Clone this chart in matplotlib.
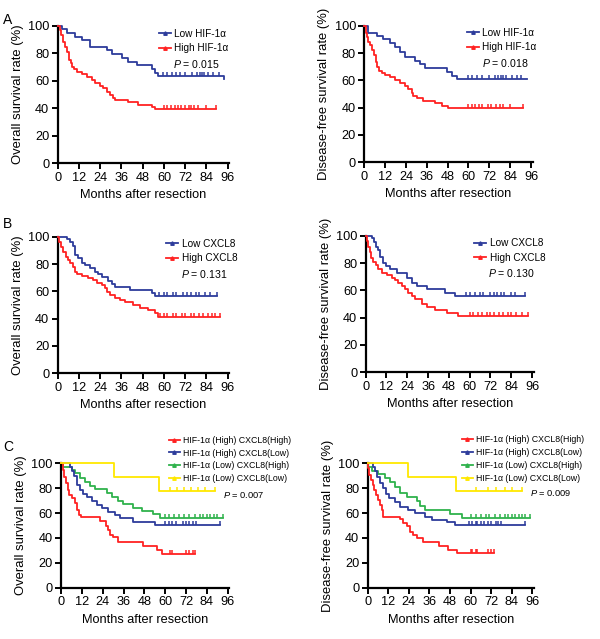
import matplotlib
matplotlib.use('Agg')
import matplotlib.pyplot as plt
from matplotlib.lines import Line2D

plt.rcParams['font.family'] = ['Liberation Sans', 'DejaVu Sans']
plt.rcParams['mathtext.fontset'] = 'custom'
plt.rcParams['mathtext.it'] = 'Liberation Sans:italic'
plt.rcParams['mathtext.rm'] = 'Liberation Sans'

BLUE = "#2d3c9b"
RED = "#ff2222"
GREEN = "#2fb24c"
YELLOW = "#ffe800"

W, H = 600, 639

# ---- panel A : HIF-1a ----
a_os_low_t = [0, 2.3, 5.1, 9.8, 13.6, 18.3, 23.9, 27.7, 30.5, 36.1, 39.9, 44.6, 53.1, 55.0, 56.8, 94]
a_os_low_s = [100, 97.3, 94.7, 92, 89.6, 84.7, 84.7, 82.3, 79.4, 76.3, 73.8, 71.4, 68.5, 65.9, 63.4, 61.3]
a_os_low_c = [59.6, 62, 64.4, 67, 69.1, 72, 75.7, 78.5, 80.4, 81.3, 82.5, 85.1, 87.9, 91]
a_os_high_t = [0, 1.3, 1.9, 3.2, 4.1, 5.1, 6.6, 7.3, 7.9, 9.2, 10.7, 13.6, 16.8, 19.2, 21.1, 23.9, 25.8, 27.7,
               29.6, 31.4, 32.4, 39.9, 45.6, 53.1, 55.0, 56.8, 89.4]
a_os_high_s = [100, 96.9, 93, 88, 84.7, 81, 75, 72.6, 70, 68.5, 66.6, 64.9, 63, 60.5, 58, 56, 54.5, 52,
               49.6, 47.7, 46, 44.3, 42.4, 40.7, 39.5, 39.5, 39.5]
a_os_high_c = [60, 62, 64, 66, 68, 69.5, 72, 74, 75.5, 77, 79, 84, 89.4]

a_dfs_low_t = [0, 1.9, 7.1, 10.9, 14.8, 17.7, 20.5, 23.4, 29.2, 32.1, 35.0, 47.4, 50.3, 53.2, 93.5]
a_dfs_low_s = [100, 94.4, 92.4, 90, 87.6, 84.6, 81, 76.8, 74.4, 71.7, 68.8, 66.3, 63.2, 61, 61]
a_dfs_low_c = [60, 62, 65, 68, 72, 75, 77, 78.5, 80, 81.5, 85, 88, 90.5]
a_dfs_high_t = [0, 0.8, 1.3, 2.3, 3.3, 4.2, 5.6, 6.7, 7.5, 8.6, 10.0, 11.9, 14.8, 17.7, 20.5, 23.4, 25.3,
                27.3, 28.2, 30.1, 34.0, 40.7, 44.5, 48.4, 53.2, 91.2]
a_dfs_high_s = [100, 94.9, 92, 88, 85.9, 82.2, 78.5, 73.7, 70, 67, 65.6, 63.9, 62.2, 60.2, 58.3, 55.9, 53.4,
                50.5, 48.5, 46.8, 45.1, 43.2, 41.2, 39.5, 39.5, 39.5]
a_dfs_high_c = [60, 62, 64, 66, 68, 71, 73, 76, 78, 80, 84, 91.2]

# ---- panel B : CXCL8 ----
b_os_low_t = [0, 5.1, 7.0, 8.5, 9.8, 11.7, 13.6, 15.4, 18.3, 21.1, 23.0, 24.8, 28.6, 30.5, 32.4, 40.8,
              53.1, 55.0, 89.8]
b_os_low_s = [100, 98, 96.3, 93.2, 86.6, 84.1, 81, 79.3, 76.8, 74.4, 72.4, 70.2, 67.8, 65.4, 63.4, 61,
              58.5, 56.6, 56.6]
b_os_low_c = [57, 60, 62, 65, 67, 71, 73, 75, 78, 80, 83, 86, 89.8]
b_os_high_t = [0, 0.9, 1.9, 3.2, 4.5, 5.6, 7.0, 8.5, 9.8, 11.1, 13.6, 17.3, 20.1, 22.4, 24.8, 26.7, 27.7,
               29.6, 32.4, 35.2, 38.0, 42.7, 46.5, 51.2, 55.0, 56.8, 91.7]
b_os_high_s = [100, 96, 92.7, 89, 85.4, 82.9, 80.5, 77.6, 74.4, 72.4, 71.2, 70, 68.3, 66.3, 64.6, 62.2,
               59.8, 57.3, 55.4, 53.7, 52, 50, 48, 46.3, 43.9, 41.5, 41.5]
b_os_high_c = [58, 60, 62, 65, 67, 70, 72, 75, 77, 80, 82, 85, 87, 89, 91.7]

b_dfs_low_t = [0, 3.5, 4.8, 6.0, 7.3, 8.3, 9.8, 11.7, 14.0, 17.9, 23.6, 26.5, 29.4, 35.1, 45.7, 51.5, 91.8]
b_dfs_low_s = [100, 98, 95.6, 92, 89.5, 84.6, 80.2, 77.8, 75.4, 72.9, 68.8, 65.6, 63.2, 60.7, 58.3, 56.1, 56.1]
b_dfs_low_c = [58, 60, 63, 66, 68, 72, 74, 76, 78, 80, 84, 86, 91.8]
b_dfs_high_t = [0, 0.6, 1.2, 2.5, 3.1, 4.4, 6.0, 7.3, 9.2, 12.1, 15.0, 16.9, 18.8, 20.7, 22.7, 24.6, 26.5,
                28.4, 32.3, 35.1, 39.9, 46.7, 53.4, 93.7]
b_dfs_high_s = [100, 96, 92, 88, 84, 80.7, 78.5, 75.4, 72.4, 71.2, 69.3, 67.6, 65.1, 63.2, 60.7, 58.3, 55.9,
                53.4, 50, 48, 45.6, 43.5, 41.2, 41.2]
b_dfs_high_c = [60, 62, 65, 67, 70, 72, 74, 77, 79, 82, 84, 87, 90, 93.7]

# ---- panel C : HIF-1a x CXCL8 ----
c_labels = ["HIF-1α (High) CXCL8(High)", "HIF-1α (High) CXCL8(Low)",
            "HIF-1α (Low) CXCL8(High)", "HIF-1α (Low) CXCL8(Low)"]

c_os_hh_t = [0, 1.0, 1.7, 2.9, 3.8, 4.8, 6.1, 8.1, 9.4, 10.4, 11.3, 22.5, 25.9, 27.3, 28.2, 30.1, 33.0,
             47.4, 55.1, 58.0, 77.2]
c_os_hh_s = [100, 94.6, 89.3, 84, 78.6, 74.6, 71.8, 67.8, 62.5, 58.4, 56.6, 53.5, 49.6, 46.4, 42.4, 40.5,
             37, 33.5, 30.3, 27, 27]
c_os_hh_c = [63, 64, 72, 74, 76, 77.2]
c_os_hl_t = [0, 5.2, 6.1, 7.5, 9.0, 10.9, 12.9, 15.2, 17.7, 20.5, 23.4, 27.3, 31.1, 34.0, 41.7, 54.1, 91.6]
c_os_hl_s = [100, 97.3, 93.8, 89.8, 82.6, 78.6, 75.3, 72.7, 69.7, 66.5, 63.8, 61.1, 58.4, 55.8, 53, 50.4, 50.4]
c_os_hl_c = [60, 62, 64, 66, 70, 72, 74, 76, 78, 91.6]
c_os_lh_t = [0, 1.3, 6.1, 8.1, 10.9, 13.8, 16.7, 19.6, 26.3, 29.2, 33.0, 35.9, 41.7, 46.5, 53.2, 57.0, 93.5]
c_os_lh_s = [100, 97.3, 94.6, 92, 88.5, 85.3, 81.8, 79, 76.4, 73.2, 69.7, 67, 64.3, 61.9, 59, 55.8, 55.8]
c_os_lh_c = [60, 62, 65, 68, 71, 74, 77, 80, 82, 84, 86, 88, 90, 93.5]
c_os_ll_t = [0, 30.7, 56.6, 88.7]
c_os_ll_s = [100, 88.9, 77.8, 77.8]
c_os_ll_c = [63, 67, 71, 75, 79, 83, 88.7]

c_dfs_hh_t = [0, 0.4, 1.0, 1.9, 2.9, 3.9, 4.9, 6.2, 7.2, 8.2, 8.7, 9.1, 18.8, 20.8, 22.7, 24.7, 26.2, 28.6,
              32.5, 41.8, 47.0, 51.9, 73.6]
c_dfs_hh_s = [100, 96, 90.6, 86.6, 82.6, 78.6, 74.5, 70.5, 66.5, 62.5, 60, 57.1, 55, 52.3, 49.6, 45, 42.4,
              39.7, 37, 33.5, 30.3, 27.6, 27.6]
c_dfs_hh_c = [60, 61, 63, 64, 70, 72, 73.6]
c_dfs_hl_t = [0, 2.9, 4.3, 5.6, 7.2, 9.1, 10.7, 12.6, 15.9, 18.8, 23.7, 27.6, 33.4, 37.3, 46.1, 50.9, 91.7]
c_dfs_hl_s = [100, 97.3, 93.8, 89.3, 84, 80, 75.3, 71.8, 69.2, 64.6, 62.5, 59.8, 56.6, 54.4, 53, 50.4, 50.4]
c_dfs_hl_c = [59, 61, 63, 64, 66, 68, 70, 72, 75, 76, 78, 91.7]
c_dfs_lh_t = [0, 0.4, 2.3, 6.2, 10.1, 13.0, 15.9, 18.8, 22.7, 28.6, 30.5, 33.4, 48.0, 54.8, 94.6]
c_dfs_lh_s = [100, 97.3, 93.8, 91.2, 87.9, 85.3, 81.2, 76.4, 72.7, 69.7, 65.7, 62.5, 59.2, 55.8, 55.8]
c_dfs_lh_c = [60, 63, 66, 69, 71, 74, 77, 80, 82, 84, 86, 88, 90, 92, 94.6]
c_dfs_ll_t = [0, 23.7, 51.5, 89.8]
c_dfs_ll_s = [100, 88.9, 77.8, 77.8]
c_dfs_ll_c = [63, 70, 75, 80, 84, 89.8]


def km(ax, t, s, cens, color, z=3):
    ax.step(t, s, where='post', color=color, lw=1.3, zorder=z, clip_on=False)
    # censor ticks sit on the survival level at that time
    lvl = []
    for c in cens:
        v = s[0]
        for ti, si in zip(t, s):
            if ti <= c:
                v = si
        lvl.append(v)
    ax.plot(cens, lvl, ls='none', marker=2, ms=3, mew=1.1, color=color, zorder=z)


def add_ax(x0, x96, ytop, ybot, ylabel):
    ax = fig.add_axes([x0 / W, 1 - ybot / H, (x96 - x0) * 97 / 96 / W, (ybot - ytop) / H])
    ax.set_xlim(0, 97)
    ax.set_ylim(0, 100)
    ax.set_xticks(range(0, 97, 12))
    ax.set_yticks(range(0, 101, 20))
    for sp in ['top', 'right']:
        ax.spines[sp].set_visible(False)
    for sp in ['left', 'bottom']:
        ax.spines[sp].set_linewidth(1.6)
    ax.tick_params(direction='out', length=4, width=1.4, labelsize=9.2, pad=2)
    ax.set_xlabel("Months after resection", fontsize=9.2, labelpad=4)
    ax.set_ylabel(ylabel, fontsize=9.4, labelpad=3)
    return ax


def legend(ax, labels, colors, x, y, fs, ptxt=None, px=None, py=None):
    handles = [Line2D([], [], color=c, lw=1.3, marker='^', ms=2.5) for c in colors]
    ax.legend(handles, labels, loc='center left', bbox_to_anchor=(x / W, 1 - y / H),
              bbox_transform=fig.transFigure, frameon=False, fontsize=fs,
              handlelength=1.2, handletextpad=0.35, labelspacing=0.45, borderpad=0,
              borderaxespad=0)
    if ptxt:
        fig.text(px / W, 1 - py / H, ptxt, fontsize=fs + 0.4, va='center', ha='left')


fig = plt.figure(figsize=(W / 100, H / 100), dpi=100)

os_lab = "Overall survival rate (%)"
dfs_lab = "Disease-free survival rate (%)"

# A
ax = add_ax(57.7, 227.7, 25.7, 163.3, os_lab)
km(ax, a_os_low_t, a_os_low_s, a_os_low_c, BLUE)
km(ax, a_os_high_t, a_os_high_s, a_os_high_c, RED)
legend(ax, ["Low HIF-1α", "High HIF-1α"], [BLUE, RED], 159, 41, 7.2, "$P$ = 0.015", 173, 63.5)

ax = add_ax(364.3, 531, 25.7, 162.3, dfs_lab)
km(ax, a_dfs_low_t, a_dfs_low_s, a_dfs_low_c, BLUE)
km(ax, a_dfs_high_t, a_dfs_high_s, a_dfs_high_c, RED)
legend(ax, ["Low HIF-1α", "High HIF-1α"], [BLUE, RED], 467, 40, 7.2, "$P$ = 0.018", 482, 63)

# B
ax = add_ax(57.7, 227.7, 236.7, 373.3, os_lab)
km(ax, b_os_low_t, b_os_low_s, b_os_low_c, BLUE)
km(ax, b_os_high_t, b_os_high_s, b_os_high_c, RED)
legend(ax, ["Low CXCL8", "High CXCL8"], [BLUE, RED], 166, 251, 7.2, "$P$ = 0.131", 181, 273.5)

ax = add_ax(365.7, 532, 235.7, 372.3, dfs_lab)
km(ax, b_dfs_low_t, b_dfs_low_s, b_dfs_low_c, BLUE)
km(ax, b_dfs_high_t, b_dfs_high_s, b_dfs_high_c, RED)
legend(ax, ["Low CXCL8", "High CXCL8"], [BLUE, RED], 474, 250.5, 7.2, "$P$ = 0.130", 488, 273)

# C
c_colors = [RED, BLUE, GREEN, YELLOW]
ax = add_ax(61, 227.7, 463.3, 587.7, os_lab)
km(ax, c_os_lh_t, c_os_lh_s, c_os_lh_c, GREEN, 3)
km(ax, c_os_hl_t, c_os_hl_s, c_os_hl_c, BLUE, 4)
km(ax, c_os_hh_t, c_os_hh_s, c_os_hh_c, RED, 5)
km(ax, c_os_ll_t, c_os_ll_s, c_os_ll_c, YELLOW, 6)
legend(ax, c_labels, c_colors, 169, 459.5, 6.3, "$P$ = 0.007", 223, 494.5)

ax = add_ax(367.7, 532.3, 463.3, 587.7, dfs_lab)
km(ax, c_dfs_lh_t, c_dfs_lh_s, c_dfs_lh_c, GREEN, 3)
km(ax, c_dfs_hl_t, c_dfs_hl_s, c_dfs_hl_c, BLUE, 4)
km(ax, c_dfs_hh_t, c_dfs_hh_s, c_dfs_hh_c, RED, 5)
km(ax, c_dfs_ll_t, c_dfs_ll_s, c_dfs_ll_c, YELLOW, 6)
legend(ax, c_labels, c_colors, 462, 459, 6.3, "$P$ = 0.009", 530, 493)

for lab, y in [("A", 20), ("B", 224), ("C", 447)]:
    fig.text(3 / W, 1 - y / H, lab, fontsize=10, va='center', ha='left')

fig.savefig("out.png", dpi=100)
